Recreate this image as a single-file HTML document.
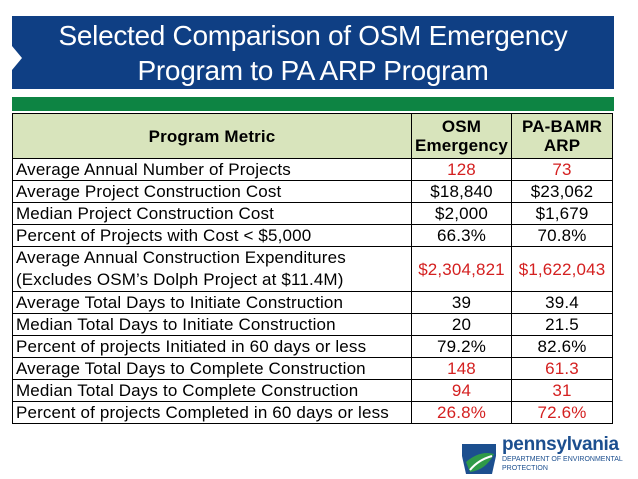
<!DOCTYPE html>
<html><head><meta charset="utf-8"><style>
body{margin:0;width:638px;height:479px;background:#fff;position:relative;overflow:hidden;font-family:"Liberation Sans",sans-serif}
#banner{position:absolute;left:12px;top:16px;width:602px;height:73px;background:#0f3f84;color:#fff;text-align:center;font-size:28px;line-height:35px;padding-top:2px;box-sizing:border-box;letter-spacing:-0.3px}
#notch{position:absolute;left:12px;top:46px;width:0;height:0;border-top:12px solid transparent;border-bottom:12px solid transparent;border-left:10px solid #fff}
#green{position:absolute;left:12px;top:97px;width:602px;height:14px;background:#0d8443}
table{position:absolute;left:12px;top:113px;border-collapse:collapse;font-size:17px;letter-spacing:0.15px}
td,th{border:1.5px solid #000;padding:0 3px;line-height:19px}
th{background:#d8e4bc;font-weight:bold}
td.v{text-align:center}
.r{color:#d42020}
#logo{position:absolute;left:462px;top:436px}
</style></head><body>
<div id="banner">Selected Comparison of OSM Emergency<br>Program to PA ARP Program</div>
<div id="notch"></div>
<div id="green"></div>
<table>
<tr style="height:45px"><th style="width:392px">Program Metric</th><th style="width:90px">OSM<br>Emergency</th><th style="width:94px">PA-BAMR<br>ARP</th></tr>
<tr style="height:22px"><td>Average Annual Number of Projects</td><td class="v r">128</td><td class="v r">73</td></tr>
<tr style="height:22px"><td>Average Project Construction Cost</td><td class="v">$18,840</td><td class="v">$23,062</td></tr>
<tr style="height:22px"><td>Median Project Construction Cost</td><td class="v">$2,000</td><td class="v">$1,679</td></tr>
<tr style="height:22px"><td>Percent of Projects with Cost &lt; $5,000</td><td class="v">66.3%</td><td class="v">70.8%</td></tr>
<tr style="height:45px"><td style="line-height:22px">Average Annual Construction Expenditures<br>(Excludes OSM’s Dolph Project at $11.4M)</td><td class="v r">$2,304,821</td><td class="v r">$1,622,043</td></tr>
<tr style="height:22px"><td>Average Total Days to Initiate Construction</td><td class="v">39</td><td class="v">39.4</td></tr>
<tr style="height:22px"><td>Median Total Days to Initiate Construction</td><td class="v">20</td><td class="v">21.5</td></tr>
<tr style="height:22px"><td>Percent of projects Initiated in 60 days or less</td><td class="v">79.2%</td><td class="v">82.6%</td></tr>
<tr style="height:22px"><td>Average Total Days to Complete Construction</td><td class="v r">148</td><td class="v r">61.3</td></tr>
<tr style="height:22px"><td>Median Total Days to Complete Construction</td><td class="v r">94</td><td class="v r">31</td></tr>
<tr style="height:22px"><td>Percent of projects Completed in 60 days or less</td><td class="v r">26.8%</td><td class="v r">72.6%</td></tr>
</table>
<div id="logo">
<svg width="170" height="40" style="position:absolute;left:0;top:0">
<path d="M0 8 L34 8 L34 20 L30 38 L4 38 L0 20Z" fill="#1c4f8f"/>
<path d="M4 26 Q18 14 32 18 Q24 34 8 36Z" fill="#2f9a48"/>
<path d="M8 34 Q16 24 30 20" stroke="#fff" stroke-width="2" fill="none"/>
</svg>
<div style="position:absolute;left:40px;top:-2px;font-size:19px;font-weight:bold;color:#1c4f8f;letter-spacing:-0.3px">pennsylvania</div>
<div style="position:absolute;left:40px;top:19px;font-size:7px;color:#1c4f8f;line-height:9px;white-space:nowrap">DEPARTMENT OF ENVIRONMENTAL<br>PROTECTION</div>
</div>
</body></html>
